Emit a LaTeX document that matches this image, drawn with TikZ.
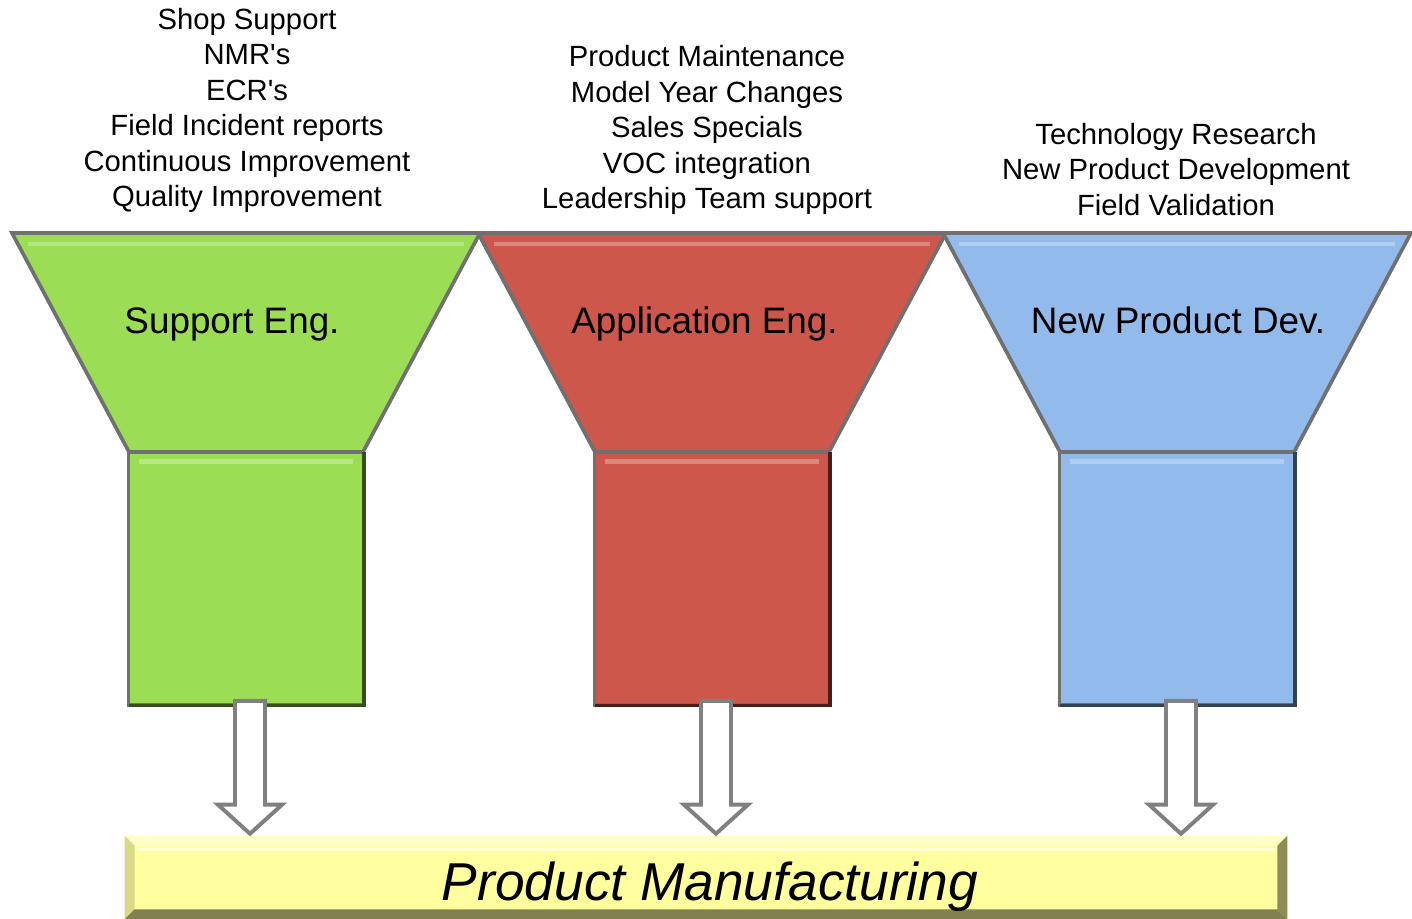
\documentclass[tikz,border=0pt]{standalone}
\usepackage{fontspec}
\setmainfont{Liberation Sans}
\usetikzlibrary{calc,positioning}

\definecolor{suppgreen}{RGB}{155,221,85}
\definecolor{appred}{RGB}{205,87,75}
\definecolor{npdblue}{RGB}{146,187,236}
\definecolor{mfgyellow}{RGB}{255,255,160}
\definecolor{rimgray}{RGB}{112,112,112}
\definecolor{arrowgray}{RGB}{128,128,128}

\tikzset{
  rim/.style={draw=rimgray, line width=2.6pt, line join=miter},
  sqbox/.style={rim, minimum width=5.875cm, minimum height=6.325cm, inner sep=0pt},
  barbox/.style={minimum width=29.05cm, minimum height=2.075cm, inner sep=0pt, fill=mfgyellow},
  topnote/.style={align=center, inner sep=0pt, font=\fontsize{20.8}{25.2}\selectfont},
  funnellabel/.style={anchor=base, inner sep=0pt, font=\fontsize{26.2}{30}\selectfont},
  hollow/.style={draw=arrowgray, line width=2.8pt, fill=white, line join=miter},
}

\begin{document}
\begin{tikzpicture}[x=0.025cm,y=-0.025cm]
  \useasboundingbox (0,0) rectangle (1412,919);
  % the three funnels
  \foreach \cx/\lx/\col/\nm/\txt in {246/232/suppgreen/supp/Support Eng.,
      712/704.5/appred/app/Application Eng., 1177/1178/npdblue/npd/New Product Dev.}{
    \draw[rim, fill=\col] (\cx-234,233) -- (\cx+234,233) -- (\cx+117,452) -- (\cx-117,452) -- cycle;
    \draw[line width=3.5pt, \col!72!white] (\cx-218,244) -- (\cx+218,244);
    \node[sqbox, fill=\col] (sq\nm) at (\cx,578.5) {};
    \draw[line width=3.5pt, \col!72!white] ($(sq\nm.north west)+(12,11)$) -- ($(sq\nm.north east)+(-12,11)$);
    \draw[line width=2.4pt, \col!35!black] ($(sq\nm.south west)+(2,-1.5)$) -- ($(sq\nm.south east)+(-1.5,-1.5)$) -- ($(sq\nm.north east)+(-1.5,2)$);
    \node[funnellabel] (lbl\nm) at (\lx,333) {\txt};
  }
  % what each group does
  \node[topnote, anchor=south] (suppnotes) at (247,213) {Shop Support\\NMR\textquotesingle s\\ECR\textquotesingle s\\Field Incident reports\\Continuous Improvement\\Quality Improvement};
  \node[topnote, anchor=south] (appnotes) at (707,215) {Product Maintenance\\Model Year Changes\\Sales Specials\\VOC integration\\Leadership Team support};
  \node[topnote, anchor=south] (npdnotes) at (1176,216) {Technology Research\\New Product Development\\Field Validation};
  % manufacturing bar
  \node[barbox] (bar) at (706,877.5) {};
  \fill[mfgyellow!60!white] (bar.north west) -- (bar.north east) -- ($(bar.north east)+(-10,10)$) -- ($(bar.north west)+(10,10)$) -- cycle;
  \fill[mfgyellow!85!black] (bar.north west) -- ($(bar.north west)+(10,10)$) -- ($(bar.south west)+(10,-10)$) -- (bar.south west) -- cycle;
  \fill[mfgyellow!55!black] (bar.north east) -- ($(bar.north east)+(-10,10)$) -- ($(bar.south east)+(-10,-10)$) -- (bar.south east) -- cycle;
  \fill[mfgyellow!50!black] (bar.south west) -- ($(bar.south west)+(10,-10)$) -- ($(bar.south east)+(-10,-10)$) -- (bar.south east) -- cycle;
  \draw[line width=2.5pt, white!55!mfgyellow] ($(bar.north west)+(12,14)$) -- ($(bar.north east)+(-12,14)$);
  \node[anchor=base, inner sep=0pt, font=\fontsize{37.9}{42}\selectfont\itshape] (mfg) at (710,900) {Product Manufacturing};
  % arrows down to the bar
  \foreach \nm in {supp,app,npd}{
    \coordinate (top\nm) at ($(sq\nm.south)+(4,-6)$);
    \coordinate (tip\nm) at (top\nm |- bar.north);
    \draw[hollow] ($(top\nm)+(-15,0)$) -- ($(top\nm)+(15,0)$) -- ($(tip\nm)+(15,-31)$)
      -- ($(tip\nm)+(32,-31)$) -- ($(tip\nm)+(0,-2)$) -- ($(tip\nm)+(-32,-31)$)
      -- ($(tip\nm)+(-15,-31)$) -- cycle;
  }
\end{tikzpicture}
\end{document}
